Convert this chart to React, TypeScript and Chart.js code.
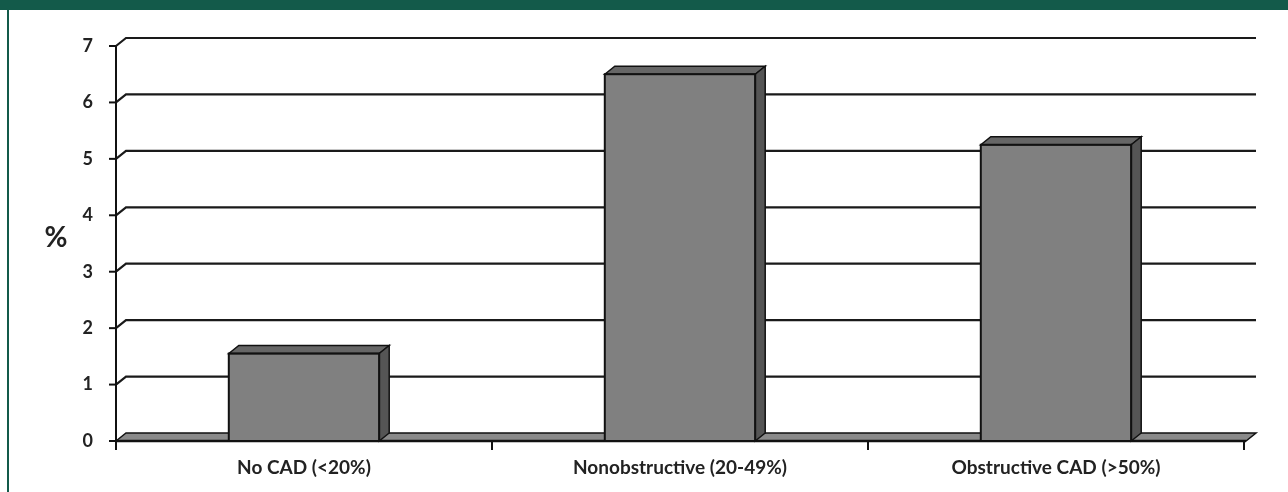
import React, { useEffect, useRef } from "react";
import { Chart, registerables } from "chart.js";

Chart.register(...registerables);

const categories = ["No CAD (<20%)", "Nonobstructive (20-49%)", "Obstructive CAD (>50%)"];
const values = [1.55, 6.5, 5.25];
const yMin = 0;
const yMax = 7;
const yStep = 1;
const yTitle = "%";

const DX = 10;
const DY = -8;
const GREEN = "#135a4a";

const deco3d = {
  id: "deco3d",
  beforeDraw(chart: any) {
    const ctx = chart.ctx;
    ctx.save();
    ctx.fillStyle = GREEN;
    ctx.fillRect(0, 0, chart.width, 10);
    ctx.fillRect(7, 0, 2, chart.height);
    ctx.restore();
  },
  beforeDatasetsDraw(chart: any) {
    const ctx = chart.ctx;
    const area = chart.chartArea;
    const ys = chart.scales.y;
    const xs = chart.scales.x;
    const y0 = ys.getPixelForValue(yMin);
    const yTop = ys.getPixelForValue(yMax);
    ctx.save();
    ctx.lineCap = "butt";
    ctx.strokeStyle = "#1a1a1a";
    ctx.lineWidth = 2.2;
    for (let v = yMin + yStep; v <= yMax; v += yStep) {
      const y = ys.getPixelForValue(v);
      ctx.beginPath();
      ctx.moveTo(area.left, y);
      ctx.lineTo(area.left + DX, y + DY);
      ctx.lineTo(area.right + 12, y + DY);
      ctx.stroke();
    }
    ctx.beginPath();
    ctx.moveTo(area.left, y0);
    ctx.lineTo(area.left + DX, y0 + DY);
    ctx.lineTo(area.right + 12, y0 + DY);
    ctx.lineTo(area.right + 2, y0);
    ctx.closePath();
    ctx.fillStyle = "#8a8a8a";
    ctx.fill();
    ctx.lineWidth = 1.5;
    ctx.strokeStyle = "#111";
    ctx.stroke();
    ctx.lineWidth = 2.5;
    ctx.beginPath();
    ctx.moveTo(area.left, y0);
    ctx.lineTo(area.right + 2, y0);
    ctx.stroke();
    ctx.lineWidth = 2;
    ctx.beginPath();
    ctx.moveTo(area.left, yTop);
    ctx.lineTo(area.left, y0 + 8);
    ctx.stroke();
    for (let v = yMin; v <= yMax; v += yStep) {
      const y = ys.getPixelForValue(v);
      ctx.beginPath();
      ctx.moveTo(area.left - 7, y);
      ctx.lineTo(area.left, y);
      ctx.stroke();
    }
    const n = categories.length;
    for (let i = 0; i <= n; i++) {
      let x;
      if (i === 0) x = area.left;
      else if (i === n) x = area.right;
      else x = (xs.getPixelForValue(i - 1) + xs.getPixelForValue(i)) / 2;
      ctx.beginPath();
      ctx.moveTo(x, y0);
      ctx.lineTo(x, y0 + 9);
      ctx.stroke();
    }
    ctx.fillStyle = "#222";
    ctx.font = "bold 28px Lato, 'Open Sans', sans-serif";
    ctx.textAlign = "center";
    ctx.textBaseline = "middle";
    ctx.fillText(yTitle, 56, 238);
    ctx.restore();
  },
  afterDatasetsDraw(chart: any) {
    const ctx = chart.ctx;
    const meta = chart.getDatasetMeta(0);
    ctx.save();
    ctx.lineWidth = 1.5;
    ctx.strokeStyle = "#111";
    ctx.lineJoin = "miter";
    for (const el of meta.data as any[]) {
      const l = el.x - el.width / 2;
      const r = el.x + el.width / 2;
      const t = el.y;
      const b = el.base;
      ctx.beginPath();
      ctx.moveTo(l, t);
      ctx.lineTo(l + DX, t + DY);
      ctx.lineTo(r + DX, t + DY);
      ctx.lineTo(r, t);
      ctx.closePath();
      ctx.fillStyle = "#666666";
      ctx.fill();
      ctx.stroke();
      ctx.beginPath();
      ctx.moveTo(r, t);
      ctx.lineTo(r + DX, t + DY);
      ctx.lineTo(r + DX, b + DY);
      ctx.lineTo(r, b);
      ctx.closePath();
      ctx.fillStyle = "#555555";
      ctx.fill();
      ctx.stroke();
      ctx.lineWidth = 2;
      ctx.strokeRect(l, t, r - l, b - t);
      ctx.lineWidth = 1.5;
    }
    ctx.restore();
  },
};

export default function App() {
  const ref = useRef<HTMLCanvasElement | null>(null);
  useEffect(() => {
    if (!ref.current) return;
    const chart = new Chart(ref.current, {
      type: "bar",
      data: {
        labels: categories,
        datasets: [
          {
            data: values,
            backgroundColor: "#808080",
            borderWidth: 0,
            barPercentage: 0.4,
            categoryPercentage: 1,
          },
        ],
      },
      options: {
        animation: false,
        responsive: false,
        maintainAspectRatio: false,
        devicePixelRatio: 1,
        layout: { padding: { left: 0, top: 46, right: 44, bottom: 0 } },
        plugins: { legend: { display: false }, tooltip: { enabled: false }, title: { display: false } },
        scales: {
          x: {
            grid: { display: false, drawTicks: false },
            border: { display: false },
            ticks: {
              color: "#222",
              padding: 15,
              font: { family: "Lato, 'Open Sans', sans-serif", size: 19, weight: "bold" },
              maxRotation: 0,
            },
            afterFit: (s: any) => {
              s.height = 51;
            },
          },
          y: {
            min: yMin,
            max: yMax,
            grid: { display: false, drawTicks: false },
            border: { display: false },
            ticks: {
              stepSize: yStep,
              color: "#222",
              padding: 23,
              font: { family: "Lato, 'Open Sans', sans-serif", size: 18, weight: "bold" },
            },
            afterFit: (s: any) => {
              s.width = 116;
            },
          },
        },
      },
      plugins: [deco3d],
    });
    return () => chart.destroy();
  }, []);
  return (
    <div style={{ position: "fixed", left: 0, top: 0, width: 1288, height: 492, background: "#fff" }}>
      <canvas ref={ref} width={1288} height={492} style={{ width: 1288, height: 492, display: "block" }} />
    </div>
  );
}
